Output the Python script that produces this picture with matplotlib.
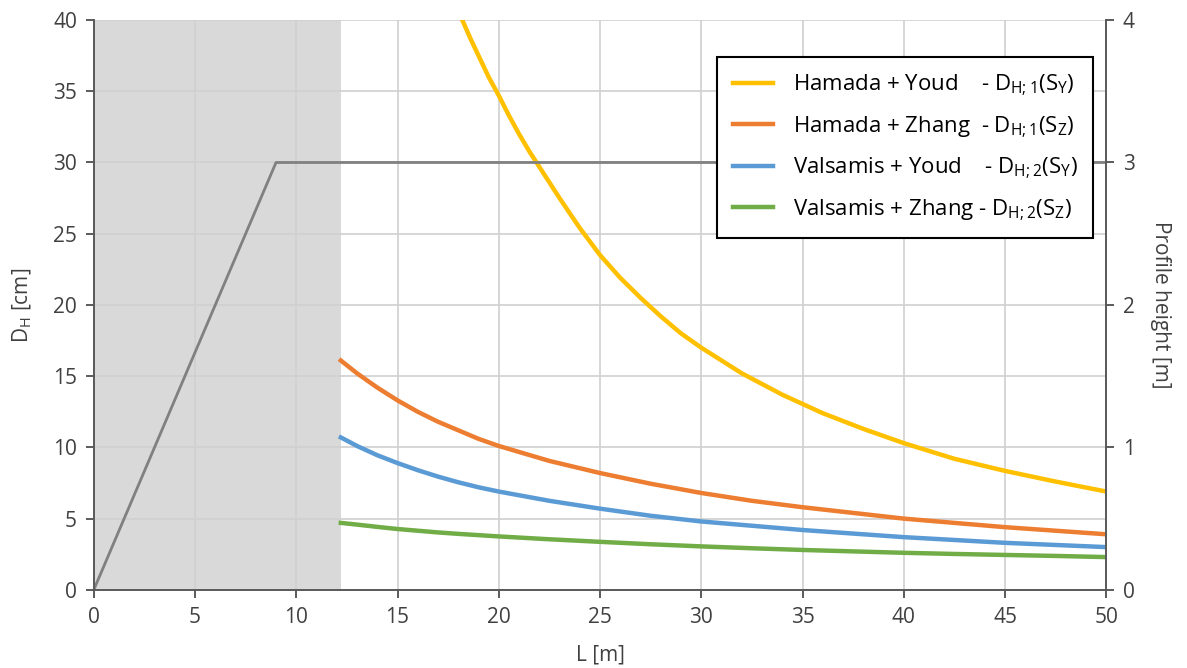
import matplotlib.pyplot as plt

plt.rcParams['font.family'] = ['Open Sans', 'DejaVu Sans']
plt.rcParams['mathtext.default'] = 'regular'

# profile geometry (right axis, m)
profil_x = [0, 9, 50]
profil_y = [0, 3, 3]
grenze = 12.2  # shaded zone end

# D_H curves (left axis, cm)
L_youd1 = [18.2, 18.6, 19, 19.5, 20, 20.5, 21, 21.5, 22, 23, 24, 25, 26, 27, 28, 29, 30,
           32, 34, 36, 38, 40, 42.5, 45, 47.5, 50]
D_youd1 = [40.0, 38.7, 37.5, 36.0, 34.7, 33.3, 32.0, 30.8, 29.7, 27.5, 25.4, 23.5, 21.9, 20.5, 19.2, 18.0, 17.0,
           15.2, 13.7, 12.4, 11.3, 10.3, 9.2, 8.35, 7.6, 6.9]

L_rest = [12.2, 13, 14, 15, 16, 17, 18, 19, 20, 22.5, 25, 27.5, 30, 32.5, 35, 37.5, 40, 42.5, 45, 47.5, 50]
D_zhang1 = [16.1, 15.2, 14.2, 13.3, 12.5, 11.8, 11.2, 10.6, 10.1, 9.05, 8.2, 7.45, 6.8, 6.25, 5.8, 5.4, 5.0, 4.7, 4.4, 4.15, 3.9]
D_youd2 = [10.7, 10.1, 9.45, 8.9, 8.4, 7.95, 7.55, 7.2, 6.9, 6.25, 5.7, 5.2, 4.8, 4.5, 4.2, 3.95, 3.7, 3.5, 3.3, 3.15, 3.0]
D_zhang2 = [4.7, 4.58, 4.42, 4.27, 4.15, 4.03, 3.93, 3.84, 3.75, 3.55, 3.37, 3.2, 3.05, 2.92, 2.8, 2.7, 2.6, 2.52, 2.45, 2.38, 2.3]

fig, ax = plt.subplots(figsize=(11.87, 6.68), dpi=100)
fig.subplots_adjust(left=0.079, right=0.932, top=0.97, bottom=0.117)
ax2 = ax.twinx()

ax.axvspan(0, grenze, color='#d9d9d9', zorder=0, lw=0)

ax.plot(L_youd1, D_youd1, color='#ffc000', lw=3.2, label='Hamada + Youd    - D$_{H;1}$(S$_Y$)')
ax.plot(L_rest, D_zhang1, color='#ed7d31', lw=3.2, label='Hamada + Zhang  - D$_{H;1}$(S$_Z$)')
ax.plot(L_rest, D_youd2, color='#5b9bd5', lw=3.2, label='Valsamis + Youd    - D$_{H;2}$(S$_Y$)')
ax.plot(L_rest, D_zhang2, color='#70ad47', lw=3.2, label='Valsamis + Zhang - D$_{H;2}$(S$_Z$)')

ax2.plot(profil_x, profil_y, color='#808080', lw=2)

ax.set_xlim(0, 50)
ax.set_ylim(0, 40)
ax2.set_ylim(0, 4)
ax.set_xticks(range(0, 51, 5))
ax.set_yticks(range(0, 41, 5))
ax2.set_yticks(range(0, 5))
ax.grid(True, color='#d0d0d0', lw=1.2, zorder=1)
ax.set_axisbelow(True)

for a in (ax, ax2):
    a.spines['top'].set_visible(False)
    a.tick_params(labelsize=15, colors='#404040', length=6, width=1.2, pad=6)
    for s in ('left', 'right', 'bottom'):
        a.spines[s].set_color('#595959')
        a.spines[s].set_linewidth(1.2)

ax.set_xlabel('L [m]', fontsize=15, color='#404040', labelpad=12)
ax.set_ylabel('D$_H$ [cm]', fontsize=15, color='#404040', labelpad=14)
ax2.set_ylabel('Profile height [m]', fontsize=15, color='#404040', rotation=-90, labelpad=26)

handles, labels = ax.get_legend_handles_labels()
leg = ax2.legend(handles, labels, loc='upper right', bbox_to_anchor=(0.987, 0.935), fontsize=16,
                 frameon=True, fancybox=False, framealpha=1, edgecolor='black', borderaxespad=0,
                 handlelength=1.8, handletextpad=0.9, labelspacing=0.72, borderpad=0.7)
leg.get_frame().set_linewidth(1.5)

fig.savefig('out.png', dpi=100)
